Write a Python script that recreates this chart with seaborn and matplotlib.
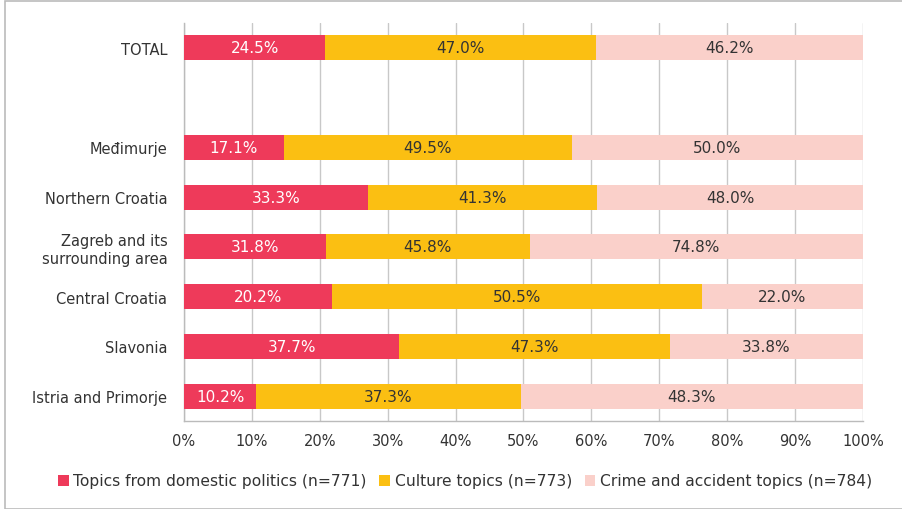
import numpy as np
import pandas as pd
import matplotlib
matplotlib.use("Agg")
import matplotlib.pyplot as plt
from matplotlib.patches import Rectangle, Patch
import seaborn as sns

categories = ["TOTAL", " ", "Međimurje", "Northern Croatia", "Zagreb and its\nsurrounding area",
              "Central Croatia", "Slavonia", "Istria and Primorje"]
politics = [24.5, np.nan, 17.1, 33.3, 31.8, 20.2, 37.7, 10.2]
culture = [47.0, np.nan, 49.5, 41.3, 45.8, 50.5, 47.3, 37.3]
crime = [46.2, np.nan, 50.0, 48.0, 74.8, 22.0, 33.8, 48.3]
series_names = ["Topics from domestic politics (n=771)", "Culture topics (n=773)",
                "Crime and accident topics (n=784)"]
colors = ["#EE3A5A", "#FBBF12", "#FAD0CA"]
text_colors = ["white", "#333333", "#333333"]
xticks = [0, 10, 20, 30, 40, 50, 60, 70, 80, 90, 100]

sns.set_theme(style="white")
plt.rcParams['font.family'] = ['DejaVu Sans']

df = pd.DataFrame({"cat": categories, "p": politics, "c": culture, "k": crime})
tot = df[["p", "c", "k"]].sum(axis=1)
share = df[["p", "c", "k"]].div(tot, axis=0) * 100
df["cum1"] = share["p"]
df["cum2"] = share["p"] + share["c"]
df["cum3"] = share["p"] + share["c"] + share["k"]

fig = plt.figure(figsize=(9.03, 5.10), dpi=100)
ax = fig.add_axes([184/903, 1-422/510, (863-184)/903, (422-24)/510])

for col, colr in zip(["cum3", "cum2", "cum1"], colors[::-1]):
    sns.barplot(data=df, x=col, y="cat", order=categories, orient="h",
                color=colr, width=0.5, ax=ax, saturation=1, linewidth=0, zorder=3)

ax.set_xlim(0, 100)
ax.set_ylim(7.5, -0.5)
ax.set_xticks(xticks)
ax.set_xticklabels([f"{t}%" for t in xticks], fontsize=10.5, color="#333333")
ax.tick_params(axis="x", pad=9, length=0)
ax.tick_params(axis="y", pad=12, length=0)
ax.set_yticks(range(len(categories)))
ax.set_yticklabels(categories, fontsize=10.5, color="#333333")
ax.set_xlabel("")
ax.set_ylabel("")
ax.xaxis.grid(True, color="#C8C8C8", linewidth=1, zorder=0)
ax.set_axisbelow(True)
for s in ["top", "right"]:
    ax.spines[s].set_visible(False)
for s in ["left", "bottom"]:
    ax.spines[s].set_color("#BBBBBB")
    ax.spines[s].set_linewidth(1)

for i, row in df.iterrows():
    if np.isnan(row["p"]):
        continue
    starts = [0, row["cum1"], row["cum2"]]
    ends = [row["cum1"], row["cum2"], row["cum3"]]
    vals = [row["p"], row["c"], row["k"]]
    for s, e, v, tc in zip(starts, ends, vals, text_colors):
        ax.text((s + e) / 2, i, f"{v:.1f}%", ha="center", va="center",
                fontsize=11, color=tc, zorder=5)

handles = [Patch(facecolor=c, edgecolor="none") for c in colors]
fig.legend(handles, series_names, loc="center", bbox_to_anchor=(0.515, 1-482/510),
           ncol=3, frameon=False, fontsize=11.2, handlelength=0.7, handleheight=0.7,
           handletextpad=0.3, columnspacing=0.8, labelcolor="#333333")

fig.patches.append(Rectangle((5/903, 0.0), 1.0, 1-2/510, transform=fig.transFigure,
                             fill=False, edgecolor="#BBBBBB", linewidth=1.2))

fig.savefig("out.png", dpi=100)
